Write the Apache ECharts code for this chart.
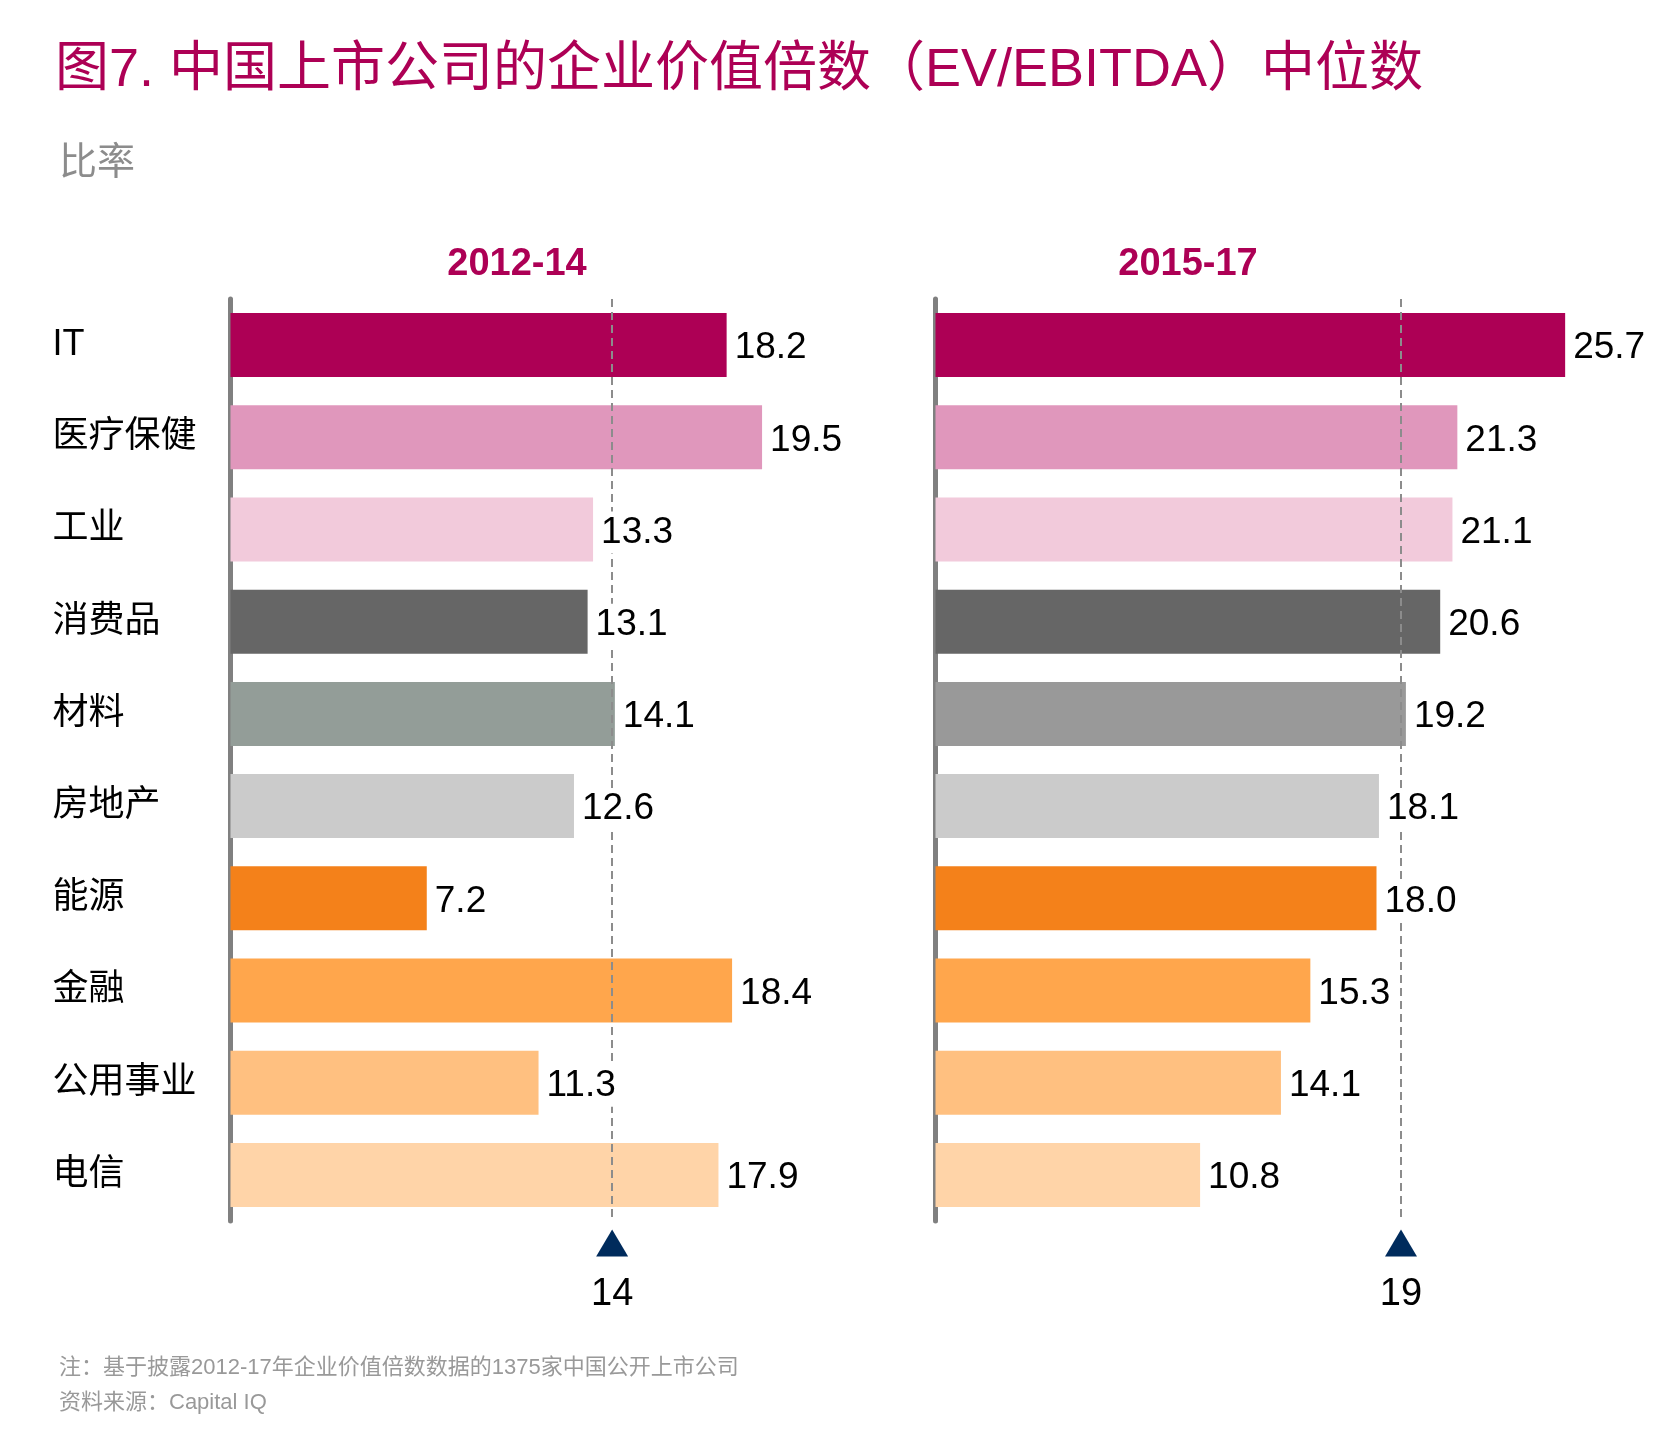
<!DOCTYPE html>
<html>
<head>
<meta charset="utf-8">
<script src="https://cdn.jsdelivr.net/npm/echarts@6/dist/echarts.min.js"></script>
<style>
html,body{margin:0;padding:0;background:#fff;}
#chart{width:1680px;height:1434px;}
</style>
</head>
<body>
<div id="chart"></div>
<script>
// ---- data ----
var categories = ['IT', '医疗保健', '工业', '消费品', '材料', '房地产', '能源', '金融', '公用事业', '电信'];
var values2012 = [18.2, 19.5, 13.3, 13.1, 14.1, 12.6, 7.2, 18.4, 11.3, 17.9];
var values2015 = [25.7, 21.3, 21.1, 20.6, 19.2, 18.1, 18.0, 15.3, 14.1, 10.8];
var median2012 = 14;
var median2015 = 19;
var panelTitles = ['2012-14', '2015-17'];

// ---- styles ----
var colors2012 = ['#AD0055', '#E097BC', '#F2CADB', '#666666', '#939D98', '#CBCBCB', '#F4811A', '#FFA64C', '#FFC080', '#FFD4A8'];
var colors2015 = ['#AD0055', '#E097BC', '#F2CADB', '#666666', '#999999', '#CBCBCB', '#F4811A', '#FFA64C', '#FFC080', '#FFD4A8'];

var LATIN = 'Liberation Sans, Arial, Noto Sans CJK SC, sans-serif';
var CJK = 'Liberation Sans, Noto Sans CJK SC, sans-serif';

function coloredData(vals, cols) {
  return vals.map(function (v, i) { return { value: v, itemStyle: { color: cols[i] } }; });
}

var chart = echarts.init(document.getElementById('chart'), null, { renderer: 'canvas' });

var gridTop = 299, gridH = 922;
var g1Left = 230.5, g1Max = 20, g1Scale = 27.26;
var g2Left = 935.5, g2Max = 26, g2Scale = 24.5;

var valueLabel = {
  show: true,
  position: 'right',
  distance: 6,
  offset: [0, 3],
  formatter: function (p) { return p.value.toFixed(1); },
  fontFamily: LATIN,
  fontSize: 37,
  lineHeight: 42,
  color: '#000',
  backgroundColor: '#fff',
  padding: [0, 8, 0, 2]
};

var medianLine = function (m) {
  return {
    silent: true,
    symbol: 'none',
    z: 5,
    label: { show: false },
    lineStyle: { color: '#8C8C8C', width: 2, type: [8, 5] },
    data: [{ xAxis: m }]
  };
};

var triangleSeries = function (idx, m) {
  return {
    type: 'scatter',
    xAxisIndex: idx,
    yAxisIndex: idx,
    symbol: 'triangle',
    symbolSize: [32, 27],
    itemStyle: { color: '#002B5C', opacity: 1 },
    silent: true,
    data: [[m, 0.5]],
    label: {
      show: true,
      position: 'bottom',
      distance: 19,
      formatter: String(m),
      fontFamily: LATIN,
      fontSize: 38,
      lineHeight: 38,
      color: '#000',
      opacity: 1
    }
  };
};

var option = {
  backgroundColor: '#fff',
  animation: false,
  title: [
    {
      text: '图7. 中国上市公司的企业价值倍数（EV/EBITDA）中位数',
      left: 50, top: 39,
      textStyle: { fontFamily: CJK, fontSize: 54, lineHeight: 54, fontWeight: 'normal', color: '#AD0055' }
    },
    {
      text: '比率',
      left: 54, top: 140,
      textStyle: { fontFamily: CJK, fontSize: 38, lineHeight: 38, fontWeight: 'normal', color: '#8C8C8C' }
    },
    {
      text: panelTitles[0],
      left: 512, top: 241, textAlign: 'center',
      textStyle: { fontFamily: LATIN, fontSize: 38, lineHeight: 38, fontWeight: 'bold', color: '#AD0055' }
    },
    {
      text: panelTitles[1],
      left: 1183, top: 241, textAlign: 'center',
      textStyle: { fontFamily: LATIN, fontSize: 38, lineHeight: 38, fontWeight: 'bold', color: '#AD0055' }
    },
    {
      text: '注：基于披露2012-17年企业价值倍数数据的1375家中国公开上市公司',
      left: 54, top: 1352,
      textStyle: { fontFamily: CJK, fontSize: 22, lineHeight: 22, fontWeight: 'normal', color: '#999999' }
    },
    {
      text: '资料来源：Capital IQ',
      left: 54, top: 1387,
      textStyle: { fontFamily: CJK, fontSize: 22, lineHeight: 22, fontWeight: 'normal', color: '#999999' }
    }
  ],
  grid: [
    { left: g1Left, top: gridTop, width: g1Max * g1Scale, height: gridH },
    { left: g2Left, top: gridTop, width: g2Max * g2Scale, height: gridH },
    { left: g1Left, top: 1228, width: g1Max * g1Scale, height: 30 },
    { left: g2Left, top: 1228, width: g2Max * g2Scale, height: 30 }
  ],
  xAxis: [
    { type: 'value', gridIndex: 0, min: 0, max: g1Max, show: false },
    { type: 'value', gridIndex: 1, min: 0, max: g2Max, show: false },
    { type: 'value', gridIndex: 2, min: 0, max: g1Max, show: false },
    { type: 'value', gridIndex: 3, min: 0, max: g2Max, show: false }
  ],
  yAxis: [
    {
      type: 'category', gridIndex: 0, data: categories, inverse: true,
      axisLine: { show: true, lineStyle: { color: '#808080', width: 5 } },
      axisTick: { show: false },
      axisLabel: { show: true, align: 'left', margin: 178, padding: [6, 0, 0, 0], fontFamily: CJK, fontSize: 36, color: '#000' }
    },
    {
      type: 'category', gridIndex: 1, data: categories, inverse: true,
      axisLine: { show: true, lineStyle: { color: '#808080', width: 5 } },
      axisTick: { show: false },
      axisLabel: { show: false }
    },
    { type: 'value', gridIndex: 2, min: 0, max: 1, show: false },
    { type: 'value', gridIndex: 3, min: 0, max: 1, show: false }
  ],
  series: [
    {
      type: 'bar', xAxisIndex: 0, yAxisIndex: 0, barWidth: 64, z: 2,
      data: coloredData(values2012, colors2012),
      markLine: medianLine(median2012)
    },
    {
      type: 'bar', xAxisIndex: 0, yAxisIndex: 0, barWidth: 64, barGap: '-100%', z: 10,
      itemStyle: { color: 'rgba(0,0,0,0)' },
      data: values2012,
      label: valueLabel,
      silent: true
    },
    {
      type: 'bar', xAxisIndex: 1, yAxisIndex: 1, barWidth: 64, z: 2,
      data: coloredData(values2015, colors2015),
      markLine: medianLine(median2015)
    },
    {
      type: 'bar', xAxisIndex: 1, yAxisIndex: 1, barWidth: 64, barGap: '-100%', z: 10,
      itemStyle: { color: 'rgba(0,0,0,0)' },
      data: values2015,
      label: valueLabel,
      silent: true
    },
    triangleSeries(2, median2012),
    triangleSeries(3, median2015)
  ]
};

chart.setOption(option);
</script>
</body>
</html>
